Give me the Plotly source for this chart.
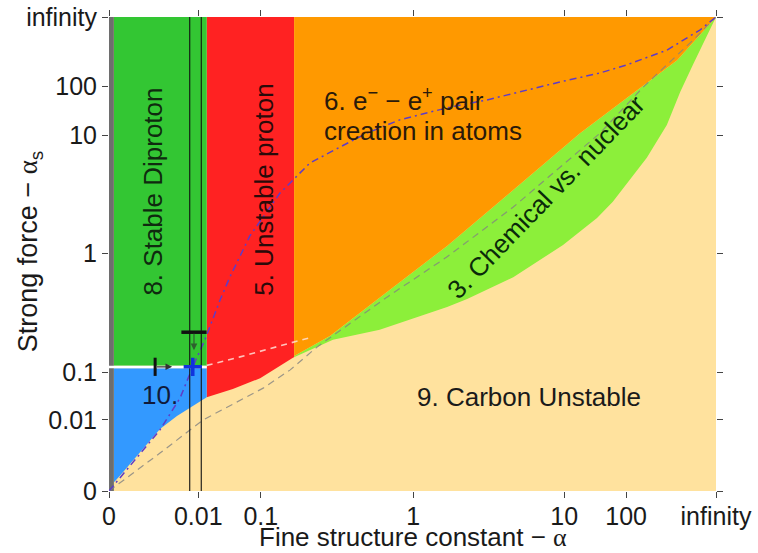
import plotly.graph_objects as go

# ---- axis ticks (positions on the compressed 0..infinity scale) ----
X_TICK_POS = [0.0, 0.147, 0.250, 0.501, 0.750, 0.852, 1.0]
X_TICK_TEXT = ["0", "0.01", "0.1", "1", "10", "100", "infinity"]
Y_TICK_POS = [0.0, 0.150, 0.251, 0.502, 0.751, 0.854, 1.0]
Y_TICK_TEXT = ["0", "0.01", "0.1", "1", "10", "100", "infinity"]

# ---- region limits ----
GRAY_U = [0.0, 0.008]
DIPROTON_U = [0.008, 0.161]
DIPROTON_V = [0.264, 1.0]
REGION10_V = [0.0, 0.259]
SEPARATOR_V = 0.2615
PROTON_U = [0.161, 0.305]

# top of "9. Carbon Unstable" region
CARBON_U = [0.000, 0.007, 0.018, 0.040, 0.084, 0.112, 0.161, 0.204, 0.249, 0.303,
            0.369, 0.446, 0.479, 0.557, 0.590, 0.666, 0.748, 0.804, 0.830, 0.886,
            0.919, 0.941, 0.962, 0.985, 1.000]
CARBON_V = [0.000, 0.017, 0.032, 0.065, 0.131, 0.158, 0.198, 0.215, 0.238, 0.281,
            0.319, 0.340, 0.354, 0.388, 0.405, 0.451, 0.519, 0.576, 0.610, 0.703,
            0.772, 0.842, 0.899, 0.962, 1.000]

# bottom of "6. pair creation" region
PAIR_U = [0.305, 0.364, 0.458, 0.557, 0.666, 0.743, 0.776, 0.853, 0.936, 1.000]
PAIR_V = [0.285, 0.327, 0.420, 0.517, 0.635, 0.719, 0.755, 0.829, 0.909, 1.000]

# dash-dot curve
DASHDOT_U = [0.000, 0.043, 0.084, 0.117, 0.138, 0.158, 0.183, 0.199, 0.232, 0.282,
             0.331, 0.381, 0.425, 0.479, 0.562, 0.623, 0.743, 0.809, 0.853, 0.919,
             0.974, 1.000]
DASHDOT_V = [0.000, 0.065, 0.129, 0.196, 0.262, 0.319, 0.403, 0.451, 0.538, 0.629,
             0.692, 0.726, 0.755, 0.783, 0.810, 0.825, 0.863, 0.882, 0.899, 0.930,
             0.973, 1.000]

# gray dashed curve
GRAYDASH_U = [0.000, 0.084, 0.155, 0.254, 0.298, 0.343, 0.458, 0.557, 0.666, 0.743,
              0.809, 0.880, 0.962, 1.000]
GRAYDASH_V = [0.000, 0.080, 0.150, 0.217, 0.255, 0.304, 0.409, 0.494, 0.599, 0.684,
              0.755, 0.852, 0.951, 1.000]

# white dashed curve
WHITEDASH_U = [0.161, 0.216, 0.298, 0.330]
WHITEDASH_V = [0.265, 0.283, 0.312, 0.323]

# vertical reference lines
VLINES_U = [0.133, 0.152]

# markers
BAR_V_POS = (0.076, 0.262)
ARROW_R_END = (0.104, 0.262)
BAR_H_POS = (0.140, 0.335)
ARROW_D_END = (0.140, 0.297)
CROSS_POS = (0.138, 0.262)

FONT = "Liberation Sans, Arial, sans-serif"
BEIGE = "#FFE29E"
LIGHTGREEN = "#8CEF3A"
ORANGE = "#FF9900"
RED = "#FF2222"
GREEN = "#33C633"
BLUE = "#3399FF"
GRAY = "#6E6E6E"

fig = go.Figure()


def rect(u, v, color):
    fig.add_trace(go.Scatter(
        x=[u[0], u[1], u[1], u[0], u[0]], y=[v[0], v[0], v[1], v[1], v[0]],
        mode="lines", fill="toself", fillcolor=color, line=dict(width=0),
        hoverinfo="skip", showlegend=False))


# red, dark green, blue
rect(PROTON_U, [0.0, 1.0], RED)
rect(DIPROTON_U, DIPROTON_V, GREEN)
rect(DIPROTON_U, REGION10_V, BLUE)

# light green below pair boundary (u >= red edge)
fig.add_trace(go.Scatter(
    x=PAIR_U + [1.0, PAIR_U[0]], y=PAIR_V + [0.0, 0.0],
    mode="lines", fill="toself", fillcolor=LIGHTGREEN, line=dict(width=0),
    hoverinfo="skip", showlegend=False))
# orange above pair boundary
fig.add_trace(go.Scatter(
    x=PAIR_U + [1.0, PAIR_U[0]], y=PAIR_V + [1.0, 1.0],
    mode="lines", fill="toself", fillcolor=ORANGE, line=dict(width=0),
    hoverinfo="skip", showlegend=False))
# beige below carbon boundary
fig.add_trace(go.Scatter(
    x=CARBON_U + [1.0, 0.0], y=CARBON_V + [0.0, 0.0],
    mode="lines", fill="toself", fillcolor=BEIGE, line=dict(width=0),
    hoverinfo="skip", showlegend=False))
# gray strip at alpha = 0
rect(GRAY_U, [0.0, 1.0], GRAY)

# white separator
fig.add_trace(go.Scatter(x=[0.0, DIPROTON_U[1]], y=[SEPARATOR_V, SEPARATOR_V],
                         mode="lines", line=dict(color="white", width=2.5),
                         hoverinfo="skip", showlegend=False))
# dashed curves
fig.add_trace(go.Scatter(x=WHITEDASH_U, y=WHITEDASH_V, mode="lines",
                         line=dict(color="rgba(255,225,215,0.85)", width=1.6, dash="6px,5px"),
                         hoverinfo="skip", showlegend=False))
fig.add_trace(go.Scatter(x=GRAYDASH_U, y=GRAYDASH_V, mode="lines",
                         line=dict(color="rgba(130,130,130,0.8)", width=1.2, dash="7px,5px"),
                         hoverinfo="skip", showlegend=False))
fig.add_trace(go.Scatter(x=DASHDOT_U, y=DASHDOT_V, mode="lines",
                         line=dict(color="#5E3CC8", width=1.5, dash="7px,4px,2px,4px"),
                         hoverinfo="skip", showlegend=False))

# vertical reference lines
for u in VLINES_U:
    fig.add_trace(go.Scatter(x=[u, u], y=[0, 1], mode="lines",
                             line=dict(color="#111111", width=1.1),
                             hoverinfo="skip", showlegend=False))

# markers
fig.add_trace(go.Scatter(x=[BAR_V_POS[0]], y=[BAR_V_POS[1]], mode="markers",
                         marker=dict(symbol="line-ns", size=13, line=dict(color="#111111", width=3)),
                         hoverinfo="skip", showlegend=False))
fig.add_trace(go.Scatter(x=[BAR_H_POS[0]], y=[BAR_H_POS[1]], mode="markers",
                         marker=dict(symbol="line-ew", size=18, line=dict(color="#111111", width=3.5)),
                         hoverinfo="skip", showlegend=False))
fig.add_trace(go.Scatter(x=[CROSS_POS[0]], y=[CROSS_POS[1]], mode="markers",
                         marker=dict(symbol="cross-thin", size=13, line=dict(color="#1133DD", width=3.5)),
                         hoverinfo="skip", showlegend=False))

annotations = [
    dict(x=ARROW_R_END[0], y=ARROW_R_END[1], ax=BAR_V_POS[0], ay=BAR_V_POS[1],
         xref="x", yref="y", axref="x", ayref="y", text="", showarrow=True,
         arrowhead=2, arrowsize=1.1, arrowwidth=1.2, arrowcolor="#333333"),
    dict(x=ARROW_D_END[0], y=ARROW_D_END[1], ax=BAR_H_POS[0], ay=BAR_H_POS[1],
         xref="x", yref="y", axref="x", ayref="y", text="", showarrow=True,
         arrowhead=2, arrowsize=1.1, arrowwidth=1.2, arrowcolor="#2F5F2F"),
]

TF = dict(family=FONT, size=26, color="#1a1a1a")
labels = [
    dict(x=0.072, y=0.631, text="8. Stable Diproton", textangle=-90, font=dict(TF, color="#0f2a0f")),
    dict(x=0.255, y=0.635, text="5. Unstable proton", textangle=-90, font=dict(TF, color="#2a0a0a")),
    dict(x=0.351, y=0.825, text="6. e<sup>−</sup> − e<sup>+</sup> pair", xanchor="left",
         font=dict(TF, color="#2a1a0a")),
    dict(x=0.351, y=0.759, text="creation in atoms", xanchor="left", font=dict(TF, color="#2a1a0a")),
    dict(x=0.720, y=0.620, text="3. Chemical vs. nuclear", textangle=-46, font=dict(TF, color="#0a2a0a")),
    dict(x=0.692, y=0.198, text="9. Carbon Unstable", font=TF),
    dict(x=0.084, y=0.203, text="10.", font=dict(TF, color="#101a3a")),
]
for l in labels:
    d = dict(xref="x", yref="y", showarrow=False, yanchor="middle")
    d.setdefault("xanchor", "center")
    d.update(l)
    annotations.append(d)

ALPHA = '<span style="font-family:Liberation Serif">α</span>'
annotations.append(dict(xref="paper", yref="paper", x=0.5, y=-0.098,
                        xanchor="center", yanchor="middle",
                        text="Fine structure constant − " + ALPHA, showarrow=False,
                        font=dict(family=FONT, size=26, color="#1a1a1a")))
annotations.append(dict(xref="paper", yref="paper", x=-0.130, y=0.504, textangle=-90,
                        xanchor="center", yanchor="middle",
                        text="Strong force − " + ALPHA + "<sub>s</sub>", showarrow=False,
                        font=dict(family=FONT, size=27, color="#1a1a1a")))

axis_common = dict(range=[0, 1], showgrid=False, zeroline=False, showline=False,
                   automargin=False,
                   ticks="outside", ticklen=6, tickwidth=1, tickcolor="#444444",
                   mirror="ticks", tickfont=dict(family=FONT, size=25, color="#1a1a1a"))

fig.update_layout(
    width=758, height=553,
    margin=dict(l=109, r=42, t=17, b=62, autoexpand=False),
    paper_bgcolor="white", plot_bgcolor=BEIGE,
    xaxis=dict(axis_common, tickvals=X_TICK_POS, ticktext=X_TICK_TEXT, ticklabelstandoff=-3),
    yaxis=dict(axis_common, tickvals=Y_TICK_POS, ticktext=Y_TICK_TEXT),
    annotations=annotations,
    showlegend=False,
)

fig.write_html("out.html", config={"displayModeBar": False},
               post_script="document.body.style.margin='0';document.body.style.padding='0';"
                           "document.body.style.overflow='hidden';")
